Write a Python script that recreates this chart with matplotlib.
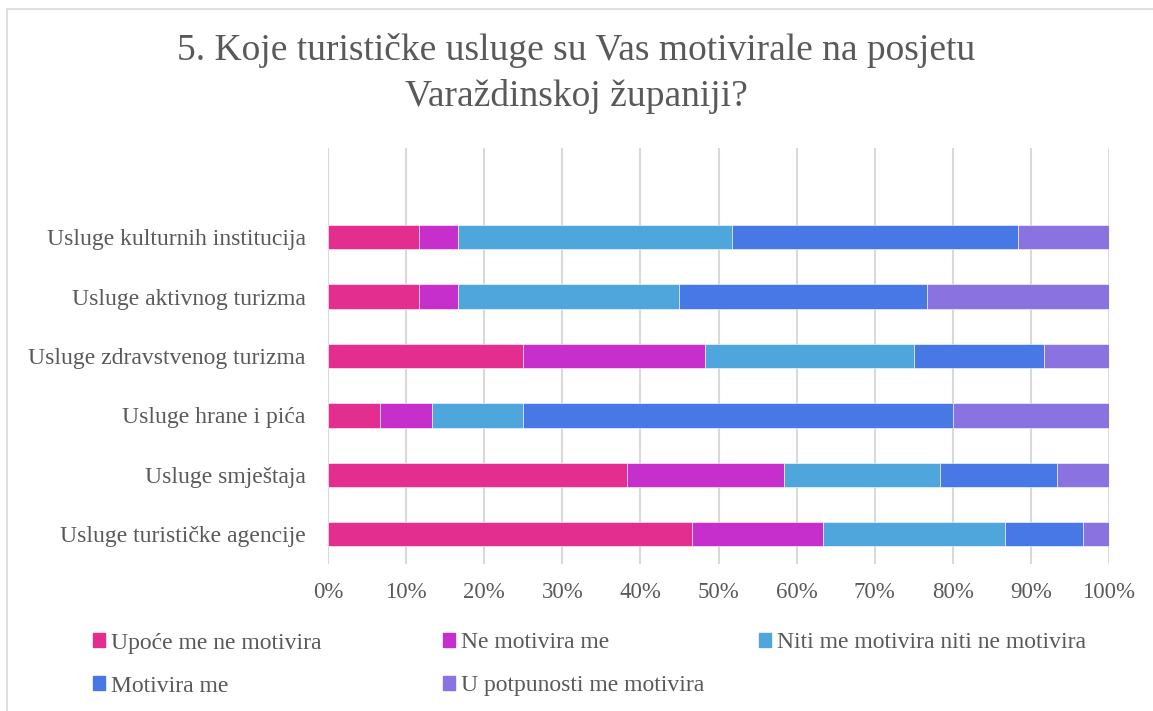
import matplotlib.pyplot as plt
import matplotlib.patches as mpatches
from matplotlib.ticker import PercentFormatter

plt.rcParams["font.family"] = ["Liberation Serif", "DejaVu Serif"]

TEXT = "#595959"
GRID = "#D9D9D9"

categories = [
    "Usluge kulturnih institucija",
    "Usluge aktivnog turizma",
    "Usluge zdravstvenog turizma",
    "Usluge hrane i pića",
    "Usluge smještaja",
    "Usluge turističke agencije",
]
series_names = [
    "Upoće me ne motivira",
    "Ne motivira me",
    "Niti me motivira niti ne motivira",
    "Motivira me",
    "U potpunosti me motivira",
]
colors = ["#E32D8F", "#C62FCB", "#4EA6DC", "#4877E6", "#8A72E0"]

# percentages per category (same order as categories)
upoce = [11.67, 11.67, 25.00, 6.67, 38.33, 46.67]
ne_mot = [5.00, 5.00, 23.33, 6.67, 20.00, 16.67]
niti = [35.00, 28.33, 26.67, 11.67, 20.00, 23.33]
motivira = [36.67, 31.67, 16.67, 55.00, 15.00, 10.00]
potpuno = [11.67, 23.33, 8.33, 20.00, 6.67, 3.33]
series = [upoce, ne_mot, niti, motivira, potpuno]

fig = plt.figure(figsize=(11.53, 7.11), dpi=100)
ax = fig.add_axes([328 / 1153, 1 - 564 / 711, (1109 - 328) / 1153, 416 / 711])

# chart border
fig.patches.append(mpatches.Rectangle((7 / 1153, -0.01), 1.2, 1 - 9 / 711 + 0.01,
                                      transform=fig.transFigure, fill=False,
                                      edgecolor="#D9D9D9", linewidth=1.2))

ypos = list(range(len(categories)))[::-1]
left = [0.0] * len(categories)
for vals, name, c in zip(series, series_names, colors):
    ax.barh(ypos, vals, left=left, height=0.41, color=c, label=name,
            edgecolor="white", linewidth=0.4, zorder=3)
    left = [l + v for l, v in zip(left, vals)]

ax.set_xlim(0, 100)
ax.set_ylim(-0.5, 6.5)
ax.set_xticks(range(0, 101, 10))
ax.xaxis.set_major_formatter(PercentFormatter(decimals=0))
ax.set_yticks(ypos)
ax.set_yticklabels(categories)
ax.tick_params(axis="both", length=0, colors=TEXT)
ax.tick_params(axis="y", pad=16, labelsize=17)
ax.tick_params(axis="x", pad=13, labelsize=16.5)
ax.xaxis.grid(True, color=GRID, linewidth=1.5, zorder=0)
for s in ax.spines.values():
    s.set_visible(False)

fig.text(0.5, 1 - 50 / 711, "5. Koje turističke usluge su Vas motivirale na posjetu",
         ha="center", va="center", fontsize=27, color=TEXT)
fig.text(0.5, 1 - 97 / 711, "Varaždinskoj županiji?",
         ha="center", va="center", fontsize=27, color=TEXT)

# legend laid out in rows like the original
leg_pos = [(84, 643), (434, 643), (750, 643), (84, 686), (434, 686)]
for (px, py), name, c in zip(leg_pos, series_names, colors):
    h = mpatches.Patch(color=c, label=name)
    lg = fig.legend(handles=[h], loc="center left",
                    bbox_to_anchor=(px / 1153, 1 - py / 711), frameon=False,
                    fontsize=17, handlelength=0.5, handleheight=0.5,
                    handletextpad=0.25, borderaxespad=0)
    for t in lg.get_texts():
        t.set_color(TEXT)

fig.savefig("out.png", dpi=100)
